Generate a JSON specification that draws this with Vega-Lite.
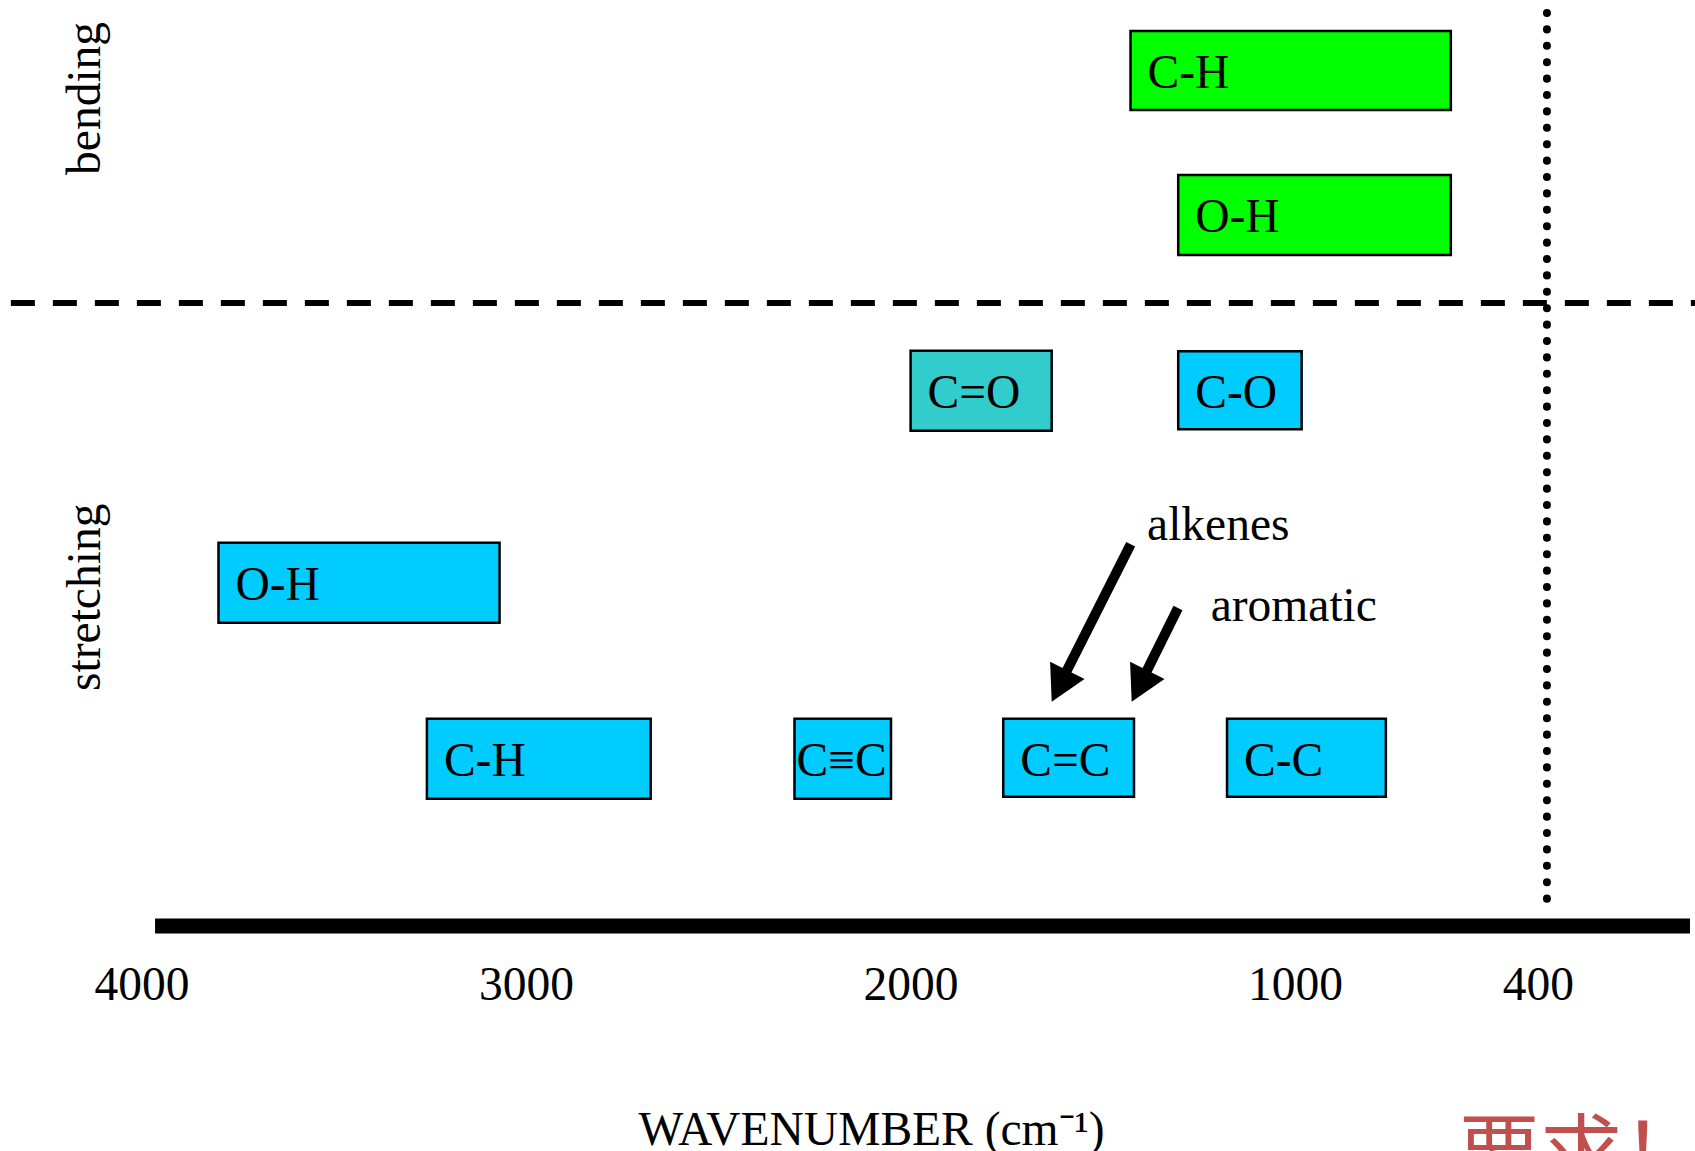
{
  "$schema": "https://vega.github.io/schema/vega-lite/v6.json",
  "width": 1695,
  "height": 926,
  "autosize": {"type": "none"},
  "padding": {"left": 0, "top": 0, "right": 0, "bottom": 225},
  "background": "white",
  "config": {"view": {"stroke": null}},
  "resolve": {"scale": {"x": "shared", "y": "shared"}, "axis": {"x": "shared"}},
  "datasets": {
    "bands": [
      {"bond": "C-H", "type": "bending", "hi": 1428, "lo": 595, "top": 96.65, "bottom": 88.12},
      {"bond": "O-H", "type": "bending", "hi": 1304, "lo": 595, "top": 81.09, "bottom": 72.45},
      {"bond": "C=O", "type": "stretching (C=O)", "hi": 2000, "lo": 1633, "top": 62.13, "bottom": 53.49},
      {"bond": "C-O", "type": "stretching", "hi": 1304, "lo": 983, "top": 62.06, "bottom": 53.65},
      {"bond": "O-H", "type": "stretching", "hi": 3800, "lo": 3069, "top": 41.39, "bottom": 32.75},
      {"bond": "C-H", "type": "stretching", "hi": 3258, "lo": 2676, "top": 22.37, "bottom": 13.73},
      {"bond": "C≡C", "type": "stretching", "hi": 2302, "lo": 2051, "top": 22.37, "bottom": 13.73},
      {"bond": "C=C", "type": "stretching", "hi": 1759, "lo": 1419, "top": 22.37, "bottom": 13.96},
      {"bond": "C-C", "type": "stretching", "hi": 1177, "lo": 764, "top": 22.37, "bottom": 13.96}
    ],
    "modes": [
      {"mode": "bending", "x": 4107, "y": 89.37},
      {"mode": "stretching", "x": 4107, "y": 35.5}
    ],
    "notes": [
      {"note": "alkenes", "x": 1385, "y": 41.68},
      {"note": "aromatic", "x": 1219.5, "y": 32.99}
    ],
    "remark": [
      {"remark": "要求！", "x": 576, "y": -27.6}
    ],
    "baseline": [
      {"x": 3965, "x2": -27, "y": 0}
    ],
    "divider": [
      {"y": 67.28, "x": 4340, "x2": -60}
    ],
    "limit": [
      {"x": 345, "y": 98.6, "y2": 2.2}
    ],
    "arrows": [
      {"to": "alkenes", "x": 1427.6, "y": 41.22, "x2": 1608.7, "y2": 26.36, "tipx": 1633, "tipy": 24.22},
      {"to": "aromatic", "x": 1304.6, "y": 34.34, "x2": 1400.7, "y2": 26.3, "tipx": 1425, "tipy": 24.22}
    ]
  },
  "layer": [
    {
      "data": {"name": "bands"},
      "mark": {"type": "rect", "stroke": "black", "strokeWidth": 2.5},
      "encoding": {
        "x": {
          "field": "hi", "type": "quantitative",
          "scale": {"domain": [-40.05, 4368.27], "reverse": true, "nice": false, "zero": false},
          "axis": {"values": [4000, 3000, 2000, 1000, 400], "format": "d", "ticks": false, "tickSize": 0, "grid": false, "domain": false, "labelFont": "Liberation Serif", "labelFontSize": 47.5, "labelColor": "black", "labelBaseline": "alphabetic", "labelPadding": 73.5, "labelOffset": {"condition": {"test": "datum.value === 400", "value": 12}, "value": 0}, "labelFlush": false, "labelOverlap": false, "title": "WAVENUMBER (cm⁻¹)", "titleFont": "Liberation Serif", "titleFontSize": 47.5, "titleFontWeight": "normal", "titleColor": "black", "titleAlign": "left", "titleBaseline": "alphabetic", "titleX": 638, "titleY": 218}
        },
        "x2": {"field": "lo"},
        "y": {"field": "top", "type": "quantitative", "axis": null, "scale": {"domain": [0, 100], "nice": false, "zero": false}},
        "y2": {"field": "bottom"},
        "color": {
          "field": "type", "type": "nominal", "legend": null,
          "scale": {"domain": ["bending", "stretching", "stretching (C=O)"], "range": ["#00FF00", "#00CCFF", "#33CCCC"]}
        }
      }
    },
    {
      "data": {"name": "baseline"},
      "mark": {"type": "rule", "color": "black", "strokeWidth": 15, "strokeCap": "butt"},
      "encoding": {
        "x": {"field": "x", "type": "quantitative", "scale": {"domain": [-40.05, 4368.27], "reverse": true, "nice": false, "zero": false},
          "axis": {"values": [4000, 3000, 2000, 1000, 400], "format": "d", "ticks": false, "tickSize": 0, "grid": false, "domain": false, "labelFont": "Liberation Serif", "labelFontSize": 47.5, "labelColor": "black", "labelBaseline": "alphabetic", "labelPadding": 73.5, "labelOffset": {"condition": {"test": "datum.value === 400", "value": 12}, "value": 0}, "labelFlush": false, "labelOverlap": false, "title": "WAVENUMBER (cm⁻¹)", "titleFont": "Liberation Serif", "titleFontSize": 47.5, "titleFontWeight": "normal", "titleColor": "black", "titleAlign": "left", "titleBaseline": "alphabetic", "titleX": 638, "titleY": 218}},
        "x2": {"field": "x2"},
        "y": {"field": "y", "type": "quantitative", "axis": null, "scale": {"domain": [0, 100], "nice": false, "zero": false}}
      }
    },
    {
      "data": {"name": "divider"},
      "mark": {"type": "rule", "color": "black", "strokeWidth": 6, "strokeDash": [24, 18]},
      "encoding": {
        "x": {"field": "x", "type": "quantitative", "scale": {"domain": [-40.05, 4368.27], "reverse": true, "nice": false, "zero": false},
          "axis": {"values": [4000, 3000, 2000, 1000, 400], "format": "d", "ticks": false, "tickSize": 0, "grid": false, "domain": false, "labelFont": "Liberation Serif", "labelFontSize": 47.5, "labelColor": "black", "labelBaseline": "alphabetic", "labelPadding": 73.5, "labelOffset": {"condition": {"test": "datum.value === 400", "value": 12}, "value": 0}, "labelFlush": false, "labelOverlap": false, "title": "WAVENUMBER (cm⁻¹)", "titleFont": "Liberation Serif", "titleFontSize": 47.5, "titleFontWeight": "normal", "titleColor": "black", "titleAlign": "left", "titleBaseline": "alphabetic", "titleX": 638, "titleY": 218}},
        "x2": {"field": "x2"},
        "y": {"field": "y", "type": "quantitative", "axis": null, "scale": {"domain": [0, 100], "nice": false, "zero": false}}
      }
    },
    {
      "data": {"name": "limit"},
      "mark": {"type": "rule", "color": "black", "strokeWidth": 8, "strokeDash": [0.1, 16.3], "strokeCap": "round"},
      "encoding": {
        "x": {"field": "x", "type": "quantitative", "scale": {"domain": [-40.05, 4368.27], "reverse": true, "nice": false, "zero": false},
          "axis": {"values": [4000, 3000, 2000, 1000, 400], "format": "d", "ticks": false, "tickSize": 0, "grid": false, "domain": false, "labelFont": "Liberation Serif", "labelFontSize": 47.5, "labelColor": "black", "labelBaseline": "alphabetic", "labelPadding": 73.5, "labelOffset": {"condition": {"test": "datum.value === 400", "value": 12}, "value": 0}, "labelFlush": false, "labelOverlap": false, "title": "WAVENUMBER (cm⁻¹)", "titleFont": "Liberation Serif", "titleFontSize": 47.5, "titleFontWeight": "normal", "titleColor": "black", "titleAlign": "left", "titleBaseline": "alphabetic", "titleX": 638, "titleY": 218}},
        "y": {"field": "y", "type": "quantitative", "axis": null, "scale": {"domain": [0, 100], "nice": false, "zero": false}},
        "y2": {"field": "y2"}
      }
    },
    {
      "data": {"name": "bands"},
      "transform": [{"filter": "datum.bond !== 'C≡C'"}],
      "mark": {"type": "text", "font": "Liberation Serif", "fontSize": 47.5, "color": "black", "align": "left", "baseline": "middle", "dx": 17, "dy": 43},
      "encoding": {
        "x": {"field": "hi", "type": "quantitative", "scale": {"domain": [-40.05, 4368.27], "reverse": true, "nice": false, "zero": false},
          "axis": {"values": [4000, 3000, 2000, 1000, 400], "format": "d", "ticks": false, "tickSize": 0, "grid": false, "domain": false, "labelFont": "Liberation Serif", "labelFontSize": 47.5, "labelColor": "black", "labelBaseline": "alphabetic", "labelPadding": 73.5, "labelOffset": {"condition": {"test": "datum.value === 400", "value": 12}, "value": 0}, "labelFlush": false, "labelOverlap": false, "title": "WAVENUMBER (cm⁻¹)", "titleFont": "Liberation Serif", "titleFontSize": 47.5, "titleFontWeight": "normal", "titleColor": "black", "titleAlign": "left", "titleBaseline": "alphabetic", "titleX": 638, "titleY": 218}},
        "y": {"field": "top", "type": "quantitative", "axis": null, "scale": {"domain": [0, 100], "nice": false, "zero": false}},
        "text": {"field": "bond"}
      }
    },
    {
      "data": {"name": "bands"},
      "transform": [{"filter": "datum.bond === 'C≡C'"}],
      "mark": {"type": "text", "font": "Liberation Serif", "fontSize": 47.5, "color": "black", "align": "left", "baseline": "middle", "dx": 2, "dy": 43},
      "encoding": {
        "x": {"field": "hi", "type": "quantitative", "scale": {"domain": [-40.05, 4368.27], "reverse": true, "nice": false, "zero": false},
          "axis": {"values": [4000, 3000, 2000, 1000, 400], "format": "d", "ticks": false, "tickSize": 0, "grid": false, "domain": false, "labelFont": "Liberation Serif", "labelFontSize": 47.5, "labelColor": "black", "labelBaseline": "alphabetic", "labelPadding": 73.5, "labelOffset": {"condition": {"test": "datum.value === 400", "value": 12}, "value": 0}, "labelFlush": false, "labelOverlap": false, "title": "WAVENUMBER (cm⁻¹)", "titleFont": "Liberation Serif", "titleFontSize": 47.5, "titleFontWeight": "normal", "titleColor": "black", "titleAlign": "left", "titleBaseline": "alphabetic", "titleX": 638, "titleY": 218}},
        "y": {"field": "top", "type": "quantitative", "axis": null, "scale": {"domain": [0, 100], "nice": false, "zero": false}},
        "text": {"field": "bond"}
      }
    },
    {
      "data": {"name": "modes"},
      "mark": {"type": "text", "font": "Liberation Serif", "fontSize": 47.5, "color": "black", "align": "center", "baseline": "alphabetic", "angle": 270},
      "encoding": {
        "x": {"field": "x", "type": "quantitative", "scale": {"domain": [-40.05, 4368.27], "reverse": true, "nice": false, "zero": false},
          "axis": {"values": [4000, 3000, 2000, 1000, 400], "format": "d", "ticks": false, "tickSize": 0, "grid": false, "domain": false, "labelFont": "Liberation Serif", "labelFontSize": 47.5, "labelColor": "black", "labelBaseline": "alphabetic", "labelPadding": 73.5, "labelOffset": {"condition": {"test": "datum.value === 400", "value": 12}, "value": 0}, "labelFlush": false, "labelOverlap": false, "title": "WAVENUMBER (cm⁻¹)", "titleFont": "Liberation Serif", "titleFontSize": 47.5, "titleFontWeight": "normal", "titleColor": "black", "titleAlign": "left", "titleBaseline": "alphabetic", "titleX": 638, "titleY": 218}},
        "y": {"field": "y", "type": "quantitative", "axis": null, "scale": {"domain": [0, 100], "nice": false, "zero": false}},
        "text": {"field": "mode"}
      }
    },
    {
      "data": {"name": "notes"},
      "mark": {"type": "text", "font": "Liberation Serif", "fontSize": 47.5, "color": "black", "align": "left", "baseline": "alphabetic"},
      "encoding": {
        "x": {"field": "x", "type": "quantitative", "scale": {"domain": [-40.05, 4368.27], "reverse": true, "nice": false, "zero": false},
          "axis": {"values": [4000, 3000, 2000, 1000, 400], "format": "d", "ticks": false, "tickSize": 0, "grid": false, "domain": false, "labelFont": "Liberation Serif", "labelFontSize": 47.5, "labelColor": "black", "labelBaseline": "alphabetic", "labelPadding": 73.5, "labelOffset": {"condition": {"test": "datum.value === 400", "value": 12}, "value": 0}, "labelFlush": false, "labelOverlap": false, "title": "WAVENUMBER (cm⁻¹)", "titleFont": "Liberation Serif", "titleFontSize": 47.5, "titleFontWeight": "normal", "titleColor": "black", "titleAlign": "left", "titleBaseline": "alphabetic", "titleX": 638, "titleY": 218}},
        "y": {"field": "y", "type": "quantitative", "axis": null, "scale": {"domain": [0, 100], "nice": false, "zero": false}},
        "text": {"field": "note"}
      }
    },
    {
      "data": {"name": "arrows"},
      "mark": {"type": "rule", "color": "black", "strokeWidth": 10, "strokeCap": "butt"},
      "encoding": {
        "x": {"field": "x", "type": "quantitative", "scale": {"domain": [-40.05, 4368.27], "reverse": true, "nice": false, "zero": false},
          "axis": {"values": [4000, 3000, 2000, 1000, 400], "format": "d", "ticks": false, "tickSize": 0, "grid": false, "domain": false, "labelFont": "Liberation Serif", "labelFontSize": 47.5, "labelColor": "black", "labelBaseline": "alphabetic", "labelPadding": 73.5, "labelOffset": {"condition": {"test": "datum.value === 400", "value": 12}, "value": 0}, "labelFlush": false, "labelOverlap": false, "title": "WAVENUMBER (cm⁻¹)", "titleFont": "Liberation Serif", "titleFontSize": 47.5, "titleFontWeight": "normal", "titleColor": "black", "titleAlign": "left", "titleBaseline": "alphabetic", "titleX": 638, "titleY": 218}},
        "x2": {"field": "x2"},
        "y": {"field": "y", "type": "quantitative", "axis": null, "scale": {"domain": [0, 100], "nice": false, "zero": false}},
        "y2": {"field": "y2"}
      }
    },
    {
      "data": {"name": "arrows"},
      "mark": {"type": "point", "shape": "M0,0 L-0.55,-1 L0.55,-1 Z", "filled": true, "color": "black", "opacity": 1, "size": 4900, "angle": 26.5, "strokeWidth": 0},
      "encoding": {
        "x": {"field": "tipx", "type": "quantitative", "scale": {"domain": [-40.05, 4368.27], "reverse": true, "nice": false, "zero": false},
          "axis": {"values": [4000, 3000, 2000, 1000, 400], "format": "d", "ticks": false, "tickSize": 0, "grid": false, "domain": false, "labelFont": "Liberation Serif", "labelFontSize": 47.5, "labelColor": "black", "labelBaseline": "alphabetic", "labelPadding": 73.5, "labelOffset": {"condition": {"test": "datum.value === 400", "value": 12}, "value": 0}, "labelFlush": false, "labelOverlap": false, "title": "WAVENUMBER (cm⁻¹)", "titleFont": "Liberation Serif", "titleFontSize": 47.5, "titleFontWeight": "normal", "titleColor": "black", "titleAlign": "left", "titleBaseline": "alphabetic", "titleX": 638, "titleY": 218}},
        "y": {"field": "tipy", "type": "quantitative", "axis": null, "scale": {"domain": [0, 100], "nice": false, "zero": false}}
      }
    },
    {
      "data": {"name": "remark"},
      "mark": {"type": "text", "font": "Noto Sans CJK SC", "fontSize": 82, "color": "#C0504D", "align": "left", "baseline": "alphabetic"},
      "encoding": {
        "x": {"field": "x", "type": "quantitative", "scale": {"domain": [-40.05, 4368.27], "reverse": true, "nice": false, "zero": false},
          "axis": {"values": [4000, 3000, 2000, 1000, 400], "format": "d", "ticks": false, "tickSize": 0, "grid": false, "domain": false, "labelFont": "Liberation Serif", "labelFontSize": 47.5, "labelColor": "black", "labelBaseline": "alphabetic", "labelPadding": 73.5, "labelOffset": {"condition": {"test": "datum.value === 400", "value": 12}, "value": 0}, "labelFlush": false, "labelOverlap": false, "title": "WAVENUMBER (cm⁻¹)", "titleFont": "Liberation Serif", "titleFontSize": 47.5, "titleFontWeight": "normal", "titleColor": "black", "titleAlign": "left", "titleBaseline": "alphabetic", "titleX": 638, "titleY": 218}},
        "y": {"field": "y", "type": "quantitative", "axis": null, "scale": {"domain": [0, 100], "nice": false, "zero": false}},
        "text": {"field": "remark"}
      }
    }
  ]
}
